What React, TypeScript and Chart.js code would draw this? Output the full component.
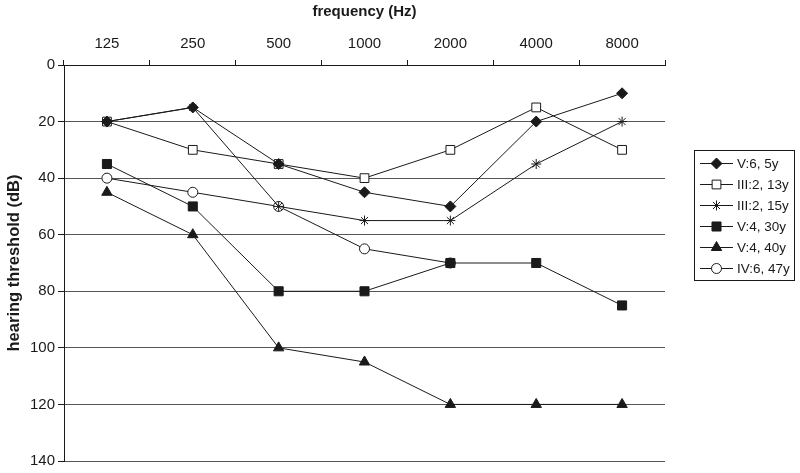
import React, { useEffect, useRef } from "react";
import { Chart, registerables } from "chart.js";
import { drawPoint } from "chart.js/helpers";

Chart.register(...registerables);

const frequencies = ["125", "250", "500", "1000", "2000", "4000", "8000"];
const seriesNames = ["V:6, 5y", "III:2, 13y", "III:2, 15y", "V:4, 30y", "V:4, 40y", "IV:6, 47y"];
const v6_5y = [20, 15, 35, 45, 50, 20, 10];
const iii2_13y = [20, 30, 35, 40, 30, 15, 30];
const iii2_15y = [20, 15, 50, 55, 55, 35, 20];
const v4_30y = [35, 50, 80, 80, 70, 70, 85];
const v4_40y = [45, 60, 100, 105, 120, 120, 120];
const iv6_47y = [40, 45, 50, 65, 70, null, null];
const yTicks = [0, 20, 40, 60, 80, 100, 120, 140];

const FONT = "'Liberation Sans', Arial, sans-serif";
const INK = "#1a1a1a";

const styles = [
  { pointStyle: "rectRot", radius: 5.5, bg: INK },
  { pointStyle: "rect", radius: 6.2, bg: "#ffffff" },
  { pointStyle: "star", radius: 5, bg: INK },
  { pointStyle: "rect", radius: 6.4, bg: INK },
  { pointStyle: "triangle", radius: 6, bg: INK },
  { pointStyle: "circle", radius: 5, bg: "#ffffff" },
];

const boxLegend = {
  id: "boxLegend",
  afterDraw(chart: any) {
    const ctx = chart.ctx;
    const left = 694.5, top = 150.5, w = 100, h = 130;
    ctx.save();
    ctx.fillStyle = "#ffffff";
    ctx.fillRect(left, top, w, h);
    ctx.strokeStyle = INK;
    ctx.lineWidth = 1;
    ctx.strokeRect(left, top, w, h);
    chart.data.datasets.forEach((ds: any, i: number) => {
      const y = 163.5 + i * 21;
      ctx.strokeStyle = INK;
      ctx.lineWidth = 1;
      ctx.beginPath();
      ctx.moveTo(700, y);
      ctx.lineTo(733, y);
      ctx.stroke();
      ctx.fillStyle = ds.pointBackgroundColor;
      ctx.strokeStyle = INK;
      drawPoint(ctx, { pointStyle: ds.pointStyle, radius: ds.pointRadius, rotation: 0, borderWidth: 1 }, 716.5, y);
      ctx.fillStyle = INK;
      ctx.font = `13.5px ${FONT}`;
      ctx.textAlign = "left";
      ctx.textBaseline = "middle";
      ctx.fillText(ds.label, 737, y + 1);
    });
    ctx.restore();
  },
};

export default function App() {
  const ref = useRef<HTMLCanvasElement | null>(null);
  useEffect(() => {
    if (!ref.current) return;
    const all = [v6_5y, iii2_13y, iii2_15y, v4_30y, v4_40y, iv6_47y];
    const chart = new Chart(ref.current, {
      type: "line",
      data: {
        labels: frequencies,
        datasets: all.map((d, i) => ({
          label: seriesNames[i],
          data: d,
          borderColor: INK,
          borderWidth: 1,
          pointStyle: styles[i].pointStyle as any,
          pointRadius: styles[i].radius,
          pointBackgroundColor: styles[i].bg,
          pointBorderColor: INK,
          pointBorderWidth: 1,
          fill: false,
          tension: 0,
          spanGaps: false,
        })),
      },
      options: {
        animation: false,
        responsive: false,
        layout: { padding: { left: 5, right: 135, top: 3, bottom: 12 } },
        plugins: { legend: { display: false }, tooltip: { enabled: false } },
        scales: {
          x: {
            type: "category",
            position: "top",
            offset: true,
            grid: { display: true, drawOnChartArea: false, drawTicks: true, tickLength: 5, offset: true, color: INK },
            border: { display: true, color: INK, width: 1 },
            ticks: { color: INK, font: { size: 15, family: FONT }, padding: 7, maxRotation: 0 },
            title: { display: true, text: "frequency (Hz)", color: INK, font: { size: 15, weight: "bold", family: FONT }, padding: { top: 0, bottom: 4 } },
            afterFit(scale: any) { scale.height = 62; },
          },
          y: {
            reverse: true,
            min: 0,
            max: 140,
            afterBuildTicks(scale: any) { scale.ticks = yTicks.map((v) => ({ value: v })); },
            grid: { color: "#555555", lineWidth: 1, drawTicks: true, tickLength: 6, tickColor: INK },
            border: { display: true, color: INK, width: 1 },
            ticks: { color: INK, font: { size: 15, family: FONT }, padding: 3 },
            title: { display: true, text: "hearing threshold (dB)", color: INK, font: { size: 16.5, weight: "bold", family: FONT }, padding: { top: 0, bottom: 4 } },
            afterFit(scale: any) { scale.width = 59; },
          },
        },
      },
      plugins: [boxLegend],
    } as any);
    return () => chart.destroy();
  }, []);
  return (
    <div style={{ position: "fixed", left: 0, top: 0, width: 800, height: 473, background: "#fff" }}>
      <canvas ref={ref} width={800} height={473} style={{ width: 800, height: 473, display: "block" }} />
    </div>
  );
}
